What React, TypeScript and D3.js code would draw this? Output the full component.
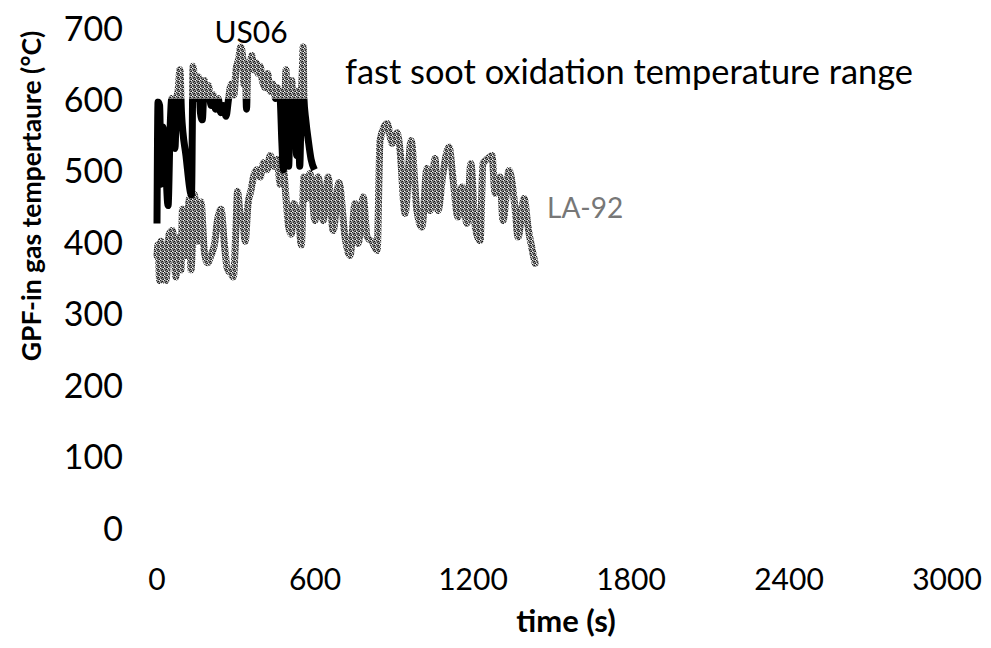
import React from "react";
import * as d3 from "d3";

const yTicks = [0, 100, 200, 300, 400, 500, 600, 700];
const xTicks = [0, 600, 1200, 1800, 2400, 3000];
const fastSootThreshold = 600;

const us06Time = [0, 4, 10, 16, 22, 30, 42, 50, 56, 62, 68, 75, 80, 87, 93, 110, 131, 137, 143, 150, 158, 165, 172, 180, 188, 196, 205, 214, 222, 232, 242, 252, 262, 272, 282, 292, 300, 310, 318, 325, 330, 335, 340, 345, 352, 360, 368, 376, 384, 392, 400, 410, 420, 430, 440, 450, 458, 462, 468, 474, 480, 486, 490, 494, 500, 506, 512, 518, 524, 530, 536, 542, 548, 552, 555, 558, 565, 575, 585, 598];
const us06Temp = [425, 595, 590, 480, 560, 530, 450, 560, 600, 590, 530, 600, 610, 640, 580, 520, 465, 645, 620, 600, 630, 580, 570, 625, 600, 618, 590, 605, 585, 600, 580, 590, 575, 600, 620, 605, 640, 655, 672, 660, 620, 650, 585, 650, 640, 660, 640, 650, 635, 645, 625, 615, 635, 610, 620, 600, 615, 610, 598, 540, 500, 598, 640, 590, 505, 600, 625, 540, 600, 520, 610, 505, 600, 640, 672, 600, 570, 540, 515, 500];

const la92Time = [0, 4, 10, 15, 21, 34, 46, 59, 72, 78, 91, 97, 110, 123, 129, 142, 154, 167, 180, 192, 205, 218, 230, 243, 256, 268, 281, 290, 300, 306, 315, 325, 335, 345, 356, 370, 380, 392, 405, 418, 430, 443, 456, 468, 480, 490, 500, 510, 520, 530, 540, 548, 558, 568, 581, 600, 612, 631, 650, 669, 691, 714, 733, 752, 764, 783, 798, 817, 836, 847, 874, 893, 912, 923, 942, 965, 987, 1006, 1025, 1037, 1056, 1067, 1086, 1109, 1124, 1143, 1158, 1177, 1192, 1208, 1227, 1238, 1257, 1272, 1284, 1303, 1314, 1337, 1360, 1371, 1394, 1409, 1436];
const la92Temp = [380, 395, 345, 400, 350, 345, 410, 415, 350, 405, 360, 445, 380, 460, 360, 465, 400, 455, 385, 370, 380, 395, 430, 445, 395, 360, 355, 350, 420, 470, 440, 430, 400, 450, 470, 495, 500, 490, 510, 500, 520, 505, 515, 480, 500, 460, 420, 410, 453, 440, 420, 395, 490, 460, 495, 429, 490, 429, 490, 415, 482, 406, 380, 453, 397, 462, 406, 399, 387, 541, 565, 537, 552, 527, 439, 541, 443, 420, 502, 443, 516, 443, 495, 532, 488, 434, 476, 425, 509, 422, 401, 509, 516, 520, 467, 490, 429, 499, 446, 406, 460, 420, 369];

const W = 991;
const H = 648;
const FONT = "Lato, 'Open Sans', sans-serif";

export default function App() {
  const x = d3.scaleLinear().domain([0, 3000]).range([157, 947]);
  const y = d3.scaleLinear().domain([0, 700]).range([527, 27]);

  const us06 = us06Time.map((t, i) => [t, us06Temp[i]] as [number, number]);
  const la92 = la92Time.map((t, i) => [t, la92Temp[i]] as [number, number]);

  const line = d3
    .line<[number, number]>()
    .x((d) => x(d[0]))
    .y((d) => y(d[1]))
    .curve(d3.curveMonotoneX);

  const yThr = y(fastSootThreshold);

  return (
    <svg
      width={W}
      height={H}
      style={{ position: "absolute", left: 0, top: 0, background: "#fff" }}
      fontFamily={FONT}
    >
      <defs>
        <pattern id="speckle" width="4" height="4" patternUnits="userSpaceOnUse">
          <rect width="4" height="4" fill="#9a9a9a" />
          <rect x="0" y="0" width="1" height="1" fill="#222" />
          <rect x="2" y="1" width="1" height="1" fill="#111" />
          <rect x="1" y="2" width="1" height="1" fill="#333" />
          <rect x="3" y="3" width="1" height="1" fill="#1a1a1a" />
          <rect x="3" y="0" width="1" height="1" fill="#eee" />
          <rect x="0" y="3" width="1" height="1" fill="#f4f4f4" />
          <rect x="1" y="1" width="1" height="1" fill="#555" />
          <rect x="2" y="3" width="1" height="1" fill="#444" />
          <rect x="3" y="2" width="1" height="1" fill="#666" />
        </pattern>
        <clipPath id="below">
          <rect x={0} y={yThr} width={W} height={H - yThr} />
        </clipPath>
        <clipPath id="above">
          <rect x={0} y={0} width={W} height={yThr} />
        </clipPath>
      </defs>

      {/* y tick labels */}
      {yTicks.map((t) => (
        <text
          key={"y" + t}
          x={123}
          y={y(t)}
          textAnchor="end"
          dominantBaseline="central"
          fontSize={34}
          fill="#000"
        >
          {t}
        </text>
      ))}

      {/* x tick labels */}
      {xTicks.map((t) => (
        <text
          key={"x" + t}
          x={x(t)}
          y={578}
          textAnchor="middle"
          dominantBaseline="central"
          fontSize={30}
          fill="#000"
        >
          {t}
        </text>
      ))}

      {/* axis titles */}
      <text
        transform={`translate(31,196) rotate(-90)`}
        textAnchor="middle"
        dominantBaseline="central"
        fontSize={26.5}
        fontWeight="bold"
        fill="#000"
      >
        GPF-in gas tempertaure (°C)
      </text>
      <text
        x={566}
        y={620}
        textAnchor="middle"
        dominantBaseline="central"
        fontSize={31}
        fontWeight="bold"
        fill="#000"
      >
        time (s)
      </text>

      {/* LA-92 */}
      <path
        d={line(la92) || ""}
        fill="none"
        stroke="url(#speckle)"
        strokeWidth={7}
        strokeLinejoin="round"
        strokeLinecap="round"
      />

      {/* US06 below threshold (black) */}
      <path
        d={line(us06) || ""}
        fill="none"
        stroke="#000"
        strokeWidth={7}
        strokeLinejoin="round"
        clipPath="url(#below)"
      />
      {/* US06 above threshold (speckled grey) */}
      <path
        d={line(us06) || ""}
        fill="none"
        stroke="url(#speckle)"
        strokeWidth={7}
        strokeLinejoin="round"
        clipPath="url(#above)"
      />

      {/* annotations */}
      <text x={251} y={31} textAnchor="middle" dominantBaseline="central" fontSize={30} fill="#000">
        US06
      </text>
      <text
        x={345}
        y={70}
        dominantBaseline="central"
        fontSize={34}
        fill="#000"
        textLength={568}
        lengthAdjust="spacingAndGlyphs"
      >
        fast soot oxidation temperature range
      </text>
      <text x={547} y={207} dominantBaseline="central" fontSize={28} fill="#777">
        LA-92
      </text>
    </svg>
  );
}
